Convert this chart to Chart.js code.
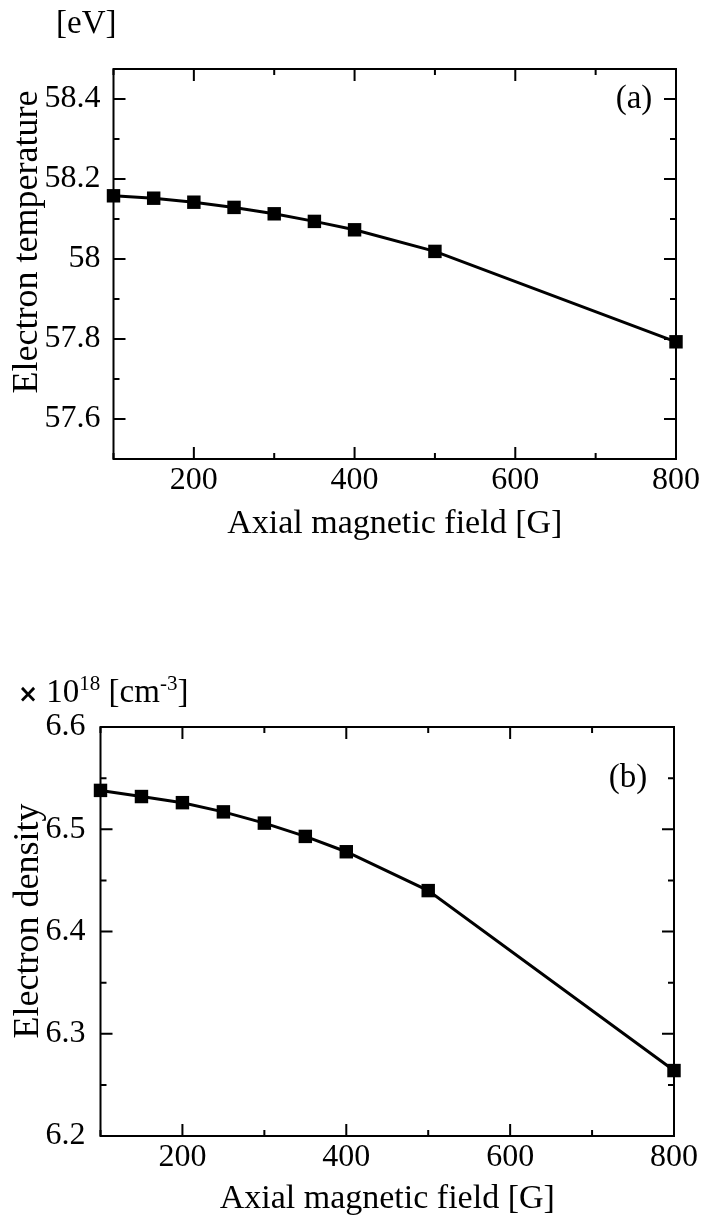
<!DOCTYPE html>
<html lang="en">
<head>
<meta charset="UTF-8" />
<title>Electron temperature and density vs axial magnetic field</title>
<script src="https://cdn.jsdelivr.net/npm/chart.js"></script>
<style>
  body { margin: 0; background: #fff; }
  .panel { position: absolute; left: 0; width: 705px; }
  #panelA { top: 0; height: 600px; }
  #panelB { top: 600px; height: 620px; }
</style>
</head>
<body>
<div class="panel" id="panelA"><canvas id="tempChart" width="705" height="600"></canvas></div>
<div class="panel" id="panelB"><canvas id="densChart" width="705" height="620"></canvas></div>
<script>
// axial magnetic field [G]
const field = [100, 150, 200, 250, 300, 350, 400, 500, 800];
// electron temperature [eV]
const temperature = [58.158, 58.152, 58.142, 58.129, 58.113, 58.094, 58.073, 58.019, 57.793];
// electron density [x10^18 cm^-3]
const density = [6.538, 6.532, 6.526, 6.517, 6.506, 6.493, 6.478, 6.440, 6.264];

const xMajor = [200, 400, 600, 800];
const xMinor = [100, 300, 500, 700];
const tempMajor = [57.6, 57.8, 58, 58.2, 58.4];
const tempMinor = [57.7, 57.9, 58.1, 58.3];
const densMajor = [6.2, 6.3, 6.4, 6.5, 6.6];
const densMinor = [6.25, 6.35, 6.45, 6.55];

const SERIF = "'Liberation Serif', 'Times New Roman', serif";
const SANS = "'DejaVu Sans', sans-serif";
Chart.defaults.font.family = SERIF;
Chart.defaults.color = '#000';

// box frame, inward tick marks on all four sides, titles and panel tag
const framePlugin = {
  id: 'frame',
  afterDatasetsDraw(chart, args, o) {
    const ctx = chart.ctx;
    const a = chart.chartArea;
    const xs = chart.scales.x, ys = chart.scales.y;
    ctx.save();
    ctx.strokeStyle = '#000';
    ctx.lineWidth = 2;
    ctx.strokeRect(a.left, a.top, a.right - a.left, a.bottom - a.top);

    ctx.beginPath();
    const xt = (vals, len) => vals.forEach(v => {
      const px = xs.getPixelForValue(v);
      ctx.moveTo(px, a.bottom); ctx.lineTo(px, a.bottom - len);
      ctx.moveTo(px, a.top); ctx.lineTo(px, a.top + len);
    });
    const yt = (vals, len) => vals.forEach(v => {
      const py = ys.getPixelForValue(v);
      ctx.moveTo(a.left, py); ctx.lineTo(a.left + len, py);
      ctx.moveTo(a.right, py); ctx.lineTo(a.right - len, py);
    });
    xt(xMajor, 12); xt(xMinor, 6);
    yt(o.yMajor, 12); yt(o.yMinor, 6);
    ctx.stroke();

    ctx.fillStyle = '#000';
    ctx.font = '34px ' + SERIF;
    ctx.textAlign = 'center';
    ctx.textBaseline = 'alphabetic';
    ctx.fillText('Axial magnetic field [G]', (a.left + a.right) / 2, o.xTitleY);

    ctx.save();
    ctx.font = '36px ' + SERIF;
    ctx.translate(o.yTitleX, o.yTitleY);
    ctx.rotate(-Math.PI / 2);
    ctx.fillText(o.yTitle, 0, 0);
    ctx.restore();

    ctx.font = '33px ' + SERIF;
    ctx.textBaseline = 'middle';
    ctx.fillText(o.tag, o.tagX, o.tagY);

    // unit label above the y axis, with optional superscripts
    ctx.textAlign = 'left';
    ctx.textBaseline = 'alphabetic';
    let x = o.unitX;
    o.unit.forEach(part => {
      const size = part.sup ? 21 : 33;
      ctx.font = (part.sans ? 'bold 24px ' + SANS : size + 'px ' + SERIF);
      ctx.fillText(part.t, x, o.unitY - (part.sup ? 12 : 0));
      x += ctx.measureText(part.t).width;
    });
    ctx.restore();
  }
};

function makeChart(id, values, yMin, yMax, yMajor, frame, layout) {
  return new Chart(document.getElementById(id), {
    type: 'line',
    data: {
      datasets: [{
        data: field.map((f, i) => ({ x: f, y: values[i] })),
        borderColor: '#000',
        borderWidth: 3,
        pointStyle: 'rect',
        pointRadius: 9.5,
        pointHoverRadius: 9.5,
        pointBackgroundColor: '#000',
        pointBorderWidth: 0,
        tension: 0,
        clip: false
      }]
    },
    options: {
      responsive: false,
      animation: false,
      events: [],
      layout: { padding: layout.padding },
      plugins: { legend: { display: false }, tooltip: { enabled: false }, frame: frame },
      scales: {
        x: {
          type: 'linear', min: 100, max: 800,
          grid: { display: false }, border: { display: false },
          ticks: { font: { size: 32 }, padding: -6, maxRotation: 0, callback: v => String(v) },
          afterBuildTicks: s => { s.ticks = xMajor.map(v => ({ value: v })); },
          afterFit: s => { s.height = layout.xHeight; }
        },
        y: {
          min: yMin, max: yMax,
          grid: { display: false }, border: { display: false },
          ticks: { font: { size: 32 }, padding: layout.yPad, callback: v => String(v) },
          afterBuildTicks: s => { s.ticks = yMajor.map(v => ({ value: v })); },
          afterFit: s => { s.width = layout.yWidth; }
        }
      }
    },
    plugins: [framePlugin]
  });
}

makeChart('tempChart', temperature, 57.5, 58.475, tempMajor, {
  yMajor: tempMajor, yMinor: tempMinor,
  yTitle: 'Electron temperature', yTitleX: 37, yTitleY: 242,
  xTitleY: 533,
  tag: '(a)', tagX: 634, tagY: 99,
  unitX: 56, unitY: 33,
  unit: [{ t: '[eV]' }]
}, { padding: { left: 0, top: 69, right: 29, bottom: 101 }, xHeight: 40, yWidth: 113.5, yPad: 5 });

makeChart('densChart', density, 6.2, 6.6, densMajor, {
  yMajor: densMajor, yMinor: densMinor,
  yTitle: 'Electron density', yTitleX: 38, yTitleY: 321,
  xTitleY: 608,
  tag: '(b)', tagX: 628, tagY: 178,
  unitX: 18, unitY: 102,
  unit: [{ t: '\u00d7', sans: true }, { t: ' 10' }, { t: '18', sup: true }, { t: ' [cm' }, { t: '-3', sup: true }, { t: ']' }]
}, { padding: { left: 0, top: 127, right: 31, bottom: 44 }, xHeight: 40, yWidth: 100.5, yPad: 7 });
</script>
</body>
</html>
